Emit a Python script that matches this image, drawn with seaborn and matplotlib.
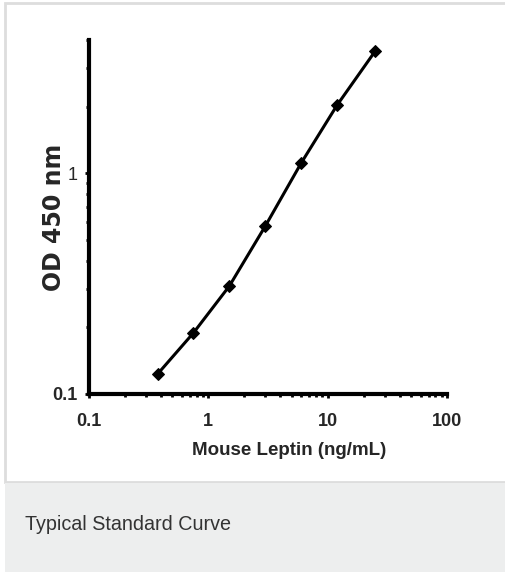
import numpy as np
import pandas as pd
import matplotlib
matplotlib.use('Agg')
import matplotlib.pyplot as plt
import seaborn as sns
from matplotlib.patches import Rectangle
from matplotlib.ticker import LogLocator, FixedLocator, FixedFormatter, NullFormatter

# standard curve values
conc = [0.375, 0.75, 1.5, 3, 6, 12, 25]
od = [0.123, 0.189, 0.308, 0.575, 1.11, 2.03, 3.56]
x_ticks = [0.1, 1, 10, 100]
x_tick_labels = ['0.1', '1', '10', '100']
y_ticks = [0.1, 1]
y_tick_labels = ['0.1', '1']

df = pd.DataFrame({'conc': conc, 'od': od})

sns.set_style('white')
plt.rcParams['font.family'] = ['Liberation Sans Narrow', 'Liberation Sans', 'DejaVu Sans']

fig = plt.figure(figsize=(5.06, 5.73), dpi=100)

# outer frame and caption panel
fig.patches.append(Rectangle((5 / 506, 1 - 482 / 573), 1.0, 479 / 573, transform=fig.transFigure,
                             facecolor='white', edgecolor='#dddddd', linewidth=2, zorder=-10))
fig.patches.append(Rectangle((5 / 506, 1 - 572 / 573), 1.0, 89 / 573, transform=fig.transFigure,
                             facecolor='#edeeee', edgecolor='none', zorder=-10))
fig.text(25 / 506, 1 - 525 / 573, 'Typical Standard Curve', fontsize=14.2, color='#333333',
         family=['Liberation Sans', 'DejaVu Sans'], va='center', ha='left')

ax = fig.add_axes([89 / 506, 1 - 394 / 573, (447 - 89) / 506, (394 - 40) / 573])
sns.lineplot(data=df, x='conc', y='od', ax=ax, color='black', linewidth=2.2,
             marker='D', markersize=6, markeredgecolor='black')
ax.set_xscale('log')
ax.set_yscale('log')
ax.set_xlim(0.1, 100)
ax.set_ylim(0.1, 4.0)
ax.patch.set_alpha(0)

for s in ['top', 'right']:
    ax.spines[s].set_visible(False)
for s in ['left', 'bottom']:
    ax.spines[s].set_linewidth(3)
    ax.spines[s].set_color('black')

ax.xaxis.set_major_locator(FixedLocator(x_ticks))
ax.xaxis.set_major_formatter(FixedFormatter(x_tick_labels))
ax.yaxis.set_major_locator(FixedLocator(y_ticks))
ax.yaxis.set_major_formatter(FixedFormatter(y_tick_labels))
ax.xaxis.set_minor_locator(LogLocator(base=10, subs=np.arange(2, 10)))
ax.yaxis.set_minor_locator(LogLocator(base=10, subs=np.arange(2, 10)))
ax.xaxis.set_minor_formatter(NullFormatter())
ax.yaxis.set_minor_formatter(NullFormatter())
ax.tick_params(which='major', direction='out', length=3, width=2, color='black',
               labelsize=13, bottom=True, left=True)
ax.tick_params(which='minor', direction='out', length=2, width=2, color='black',
               bottom=True, left=True)
ax.tick_params(axis='x', which='major', pad=11)
ax.tick_params(axis='y', which='major', pad=5)
for lab in ax.get_xticklabels():
    lab.set_fontweight('bold')
ax.get_yticklabels()[0].set_fontweight('bold')

ax.set_xlabel('Mouse Leptin (ng/mL)', fontsize=13.5, fontweight='bold')
ax.xaxis.set_label_coords((289 - 89) / 358, (394 - 442) / 354)
ax.set_ylabel('OD 450 nm', fontsize=17, fontweight='bold', family=['DejaVu Sans'])
ax.yaxis.set_label_coords((66 - 89) / 358, 0.5)

fig.savefig('out.png', dpi=100)
